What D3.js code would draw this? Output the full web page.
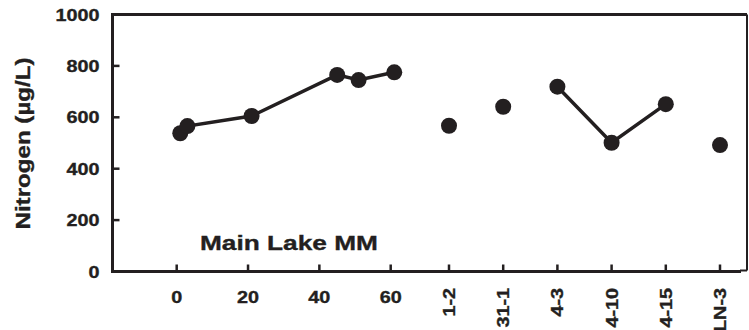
<!DOCTYPE html>
<html>
<head>
<meta charset="utf-8">
<script src="https://cdn.jsdelivr.net/npm/d3@7"></script>
<style>
  body { margin: 0; background: #fff; }
  text { font-family: Arial, "Liberation Sans", sans-serif; font-weight: bold; fill: #231f20;
         stroke: #231f20; stroke-width: 0.35px; }
</style>
</head>
<body>
<svg id="chart" width="749" height="330"></svg>
<script>
// survey stations on the main lake (distance scale)
const stationDist = [1, 3, 21, 45, 51, 61];
const stationN = [538, 566, 605, 765, 745, 775];
const distTicks = [0, 20, 40, 60];

// named sites
const siteNames = ["1-2", "31-1", "4-3", "4-10", "4-15", "LN-3"];
const siteN = [567, 641, 719, 501, 651, 492];
const siteLinked = ["4-3", "4-10", "4-15"];

const yTicks = [0, 200, 400, 600, 800, 1000];

const ink = "#231f20";
const wide = 1.2; // the source font is a wide sans
let svg = d3.select("#chart");

let plotL = 112.5, plotR = 747, plotT = 14.5, plotB = 271.5;

let yScale = d3.scaleLinear().domain([0, 1000]).range([plotB, plotT]);
let xDist = d3.scaleLinear().domain([0, 60]).range([176.7, 390.7]);
let xSite = d3.scalePoint().domain(siteNames).range([449, 720]);

// frame
svg.append("line").attr("x1", plotL).attr("x2", plotL).attr("y1", plotT - 1.5).attr("y2", plotB + 1.5)
    .attr("stroke", ink).attr("stroke-width", 3);
svg.append("line").attr("x1", plotL - 1.5).attr("x2", plotR).attr("y1", plotT).attr("y2", plotT)
    .attr("stroke", ink).attr("stroke-width", 3);
svg.append("line").attr("x1", plotR).attr("x2", plotR).attr("y1", plotT).attr("y2", plotB - 1)
    .attr("stroke", ink).attr("stroke-width", 2);
svg.append("line").attr("x1", plotL - 1.5).attr("x2", plotR - 6).attr("y1", plotB).attr("y2", plotB)
    .attr("stroke", ink).attr("stroke-width", 3);
svg.append("line").attr("x1", plotR - 7).attr("x2", plotR).attr("y1", plotB - 1).attr("y2", plotB - 1)
    .attr("stroke", ink).attr("stroke-width", 2);

// y ticks + labels
svg.selectAll(".ytick").data(yTicks.filter(d => d > 0 && d < 1000)).join("line")
    .attr("x1", plotL).attr("x2", plotL + 7)
    .attr("y1", d => yScale(d)).attr("y2", d => yScale(d))
    .attr("stroke", ink).attr("stroke-width", 2.5);
svg.selectAll(".ylab").data(yTicks).join("text")
    .attr("transform", d => "translate(99.5," + (yScale(d) + 6) + ") scale(" + wide + ",1)")
    .attr("text-anchor", "end")
    .style("font-size", "16.5px")
    .text(d => d);

// y title
svg.append("text")
    .attr("transform", "translate(30,143.5) rotate(-90) scale(1.15,1)")
    .attr("text-anchor", "middle")
    .style("font-size", "21px")
    .text("Nitrogen (µg/L)");

// x ticks
let tickXs = distTicks.map(d => xDist(d)).concat(siteNames.map(d => xSite(d)));
svg.selectAll(".xtick").data(tickXs).join("line")
    .attr("x1", d => d).attr("x2", d => d)
    .attr("y1", plotB).attr("y2", plotB - 7)
    .attr("stroke", ink).attr("stroke-width", 2.5);

svg.selectAll(".xlab").data(distTicks).join("text")
    .attr("transform", d => "translate(" + xDist(d) + ",302.5) scale(" + wide + ",1)")
    .attr("text-anchor", "middle")
    .style("font-size", "16.5px")
    .text(d => d);

svg.selectAll(".slab").data(siteNames).join("text")
    .attr("transform", d => "translate(" + (xSite(d) + 6) + ",288) rotate(-90) scale(" + wide + ",1)")
    .attr("text-anchor", "end")
    .style("font-size", "16.5px")
    .text(d => d);

// lines
let line = d3.line().x(d => d[0]).y(d => d[1]);
let distPts = stationDist.map((d, i) => [xDist(d), yScale(stationN[i])]);
let sitePts = siteNames.map((d, i) => [xSite(d), yScale(siteN[i])]);
let linkedPts = sitePts.filter((d, i) => siteLinked.includes(siteNames[i]));

svg.append("path").attr("d", line(distPts))
    .attr("fill", "none").attr("stroke", ink).attr("stroke-width", 3.5);
svg.append("path").attr("d", line(linkedPts))
    .attr("fill", "none").attr("stroke", ink).attr("stroke-width", 3.5);

// markers
svg.selectAll(".pt").data(distPts.concat(sitePts)).join("circle")
    .attr("cx", d => d[0]).attr("cy", d => d[1]).attr("r", 8)
    .attr("fill", ink);

// panel label
svg.append("text")
    .attr("transform", "translate(200,250) scale(1.25,1)")
    .style("font-size", "21px")
    .text("Main Lake MM");
</script>
</body>
</html>
